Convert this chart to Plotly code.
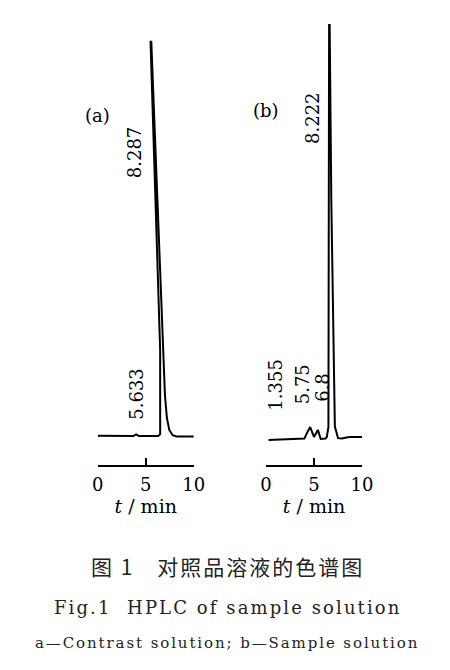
import plotly.graph_objects as go

# ---- data (retention time in min, detector signal in relative units) ----
time_a = [0.0, 2.5, 3.7, 4.0, 4.3, 6.3, 6.5, 6.5, 5.5, 5.58, 6.83, 7.0, 7.2, 7.45, 7.8, 8.2, 10.0]
signal_a = [0.2, 0.2, 0.1, 0.5, 0.1, 0.1, 0.6, 21.0, 95.9, 95.9, 21.0, 10.0, 4.5, 1.6, 0.3, 0.0, 0.0]

time_b = [0.27, 2.0, 3.5, 4.0, 4.3, 4.6, 5.0, 5.4, 5.7, 6.2, 6.33, 6.5, 6.57, 6.63, 6.8, 7.17, 7.5, 7.9, 8.5, 8.8, 9.3, 10.0]
signal_b = [-0.85, -0.7, -0.55, -0.5, 1.0, 2.3, -0.1, 1.6, -0.6, -0.5, -0.12, 2.3, 100.0, 100.0, 57.5, 2.4, -0.4, -0.5, -0.2, -0.1, -0.15, -0.1]

panel_labels = ["(a)", "(b)"]
peak_labels_a = ["8.287", "5.633"]
peak_labels_b = ["8.222", "1.355", "5.75", "6.8"]
tick_values = [0, 5, 10]
tick_text = ["0", "5", "10"]
axis_title = "<i>t</i> / min"
caption_cn = "图 1　对照品溶液的色谱图"
caption_en = "Fig.1  HPLC of sample solution"
caption_note = "a—Contrast solution; b—Sample solution"

SERIF = "DejaVu Serif"
OFF = 8  # page body margin
W, H = 450 - OFF, 670 - OFF


def px(x):
    return (x - OFF) / W


def py(y):
    return 1 - (y - OFF) / H


y_range = [-6.926, 102.43]

fig = go.Figure()
fig.add_trace(go.Scatter(x=time_a, y=signal_a, mode="lines",
                         line=dict(color="black", width=2), xaxis="x", yaxis="y",
                         showlegend=False, hoverinfo="skip"))
fig.add_trace(go.Scatter(x=time_b, y=signal_b, mode="lines",
                         line=dict(color="black", width=2), xaxis="x2", yaxis="y2",
                         showlegend=False, hoverinfo="skip"))

xaxis_style = dict(
    range=[0, 10], tickvals=tick_values, ticktext=tick_text,
    showline=True, linecolor="black", linewidth=1.5,
    ticks="inside", ticklen=7, tickwidth=1.5, tickcolor="black",
    showgrid=False, zeroline=False, ticklabelstandoff=3,
    tickfont=dict(family=SERIF, size=18, color="black"),
    title=dict(text=axis_title, font=dict(family=SERIF, size=19, color="black"), standoff=0),
    fixedrange=True,
)
yaxis_style = dict(range=y_range, visible=False, showgrid=False, zeroline=False,
                   domain=[py(465), py(15)], fixedrange=True)

fig.update_layout(
    width=W, height=H, autosize=False,
    margin=dict(l=0, r=0, t=0, b=0),
    paper_bgcolor="white", plot_bgcolor="white",
    font=dict(family=SERIF, color="black"),
    xaxis=dict(domain=[px(95), px(195)], anchor="y", **xaxis_style),
    yaxis=dict(anchor="x", **yaxis_style),
    xaxis2=dict(domain=[px(270), px(370)], anchor="y2", **xaxis_style),
    yaxis2=dict(anchor="x2", **yaxis_style),
)

ann = []
lab_font = dict(family=SERIF, size=18, color="black")
# panel labels
ann.append(dict(text=panel_labels[0], x=0.0, y=77.9, xref="x", yref="y", showarrow=False,
                font=lab_font, xanchor="center", yanchor="middle"))
ann.append(dict(text=panel_labels[1], x=0.05, y=79.3, xref="x2", yref="y2", showarrow=False,
                font=lab_font, xanchor="center", yanchor="middle"))
# peak labels (rotated)
pos_a = [(3.85, 69.0), (4.05, 10.3)]
for t, (x, y) in zip(peak_labels_a, pos_a):
    ann.append(dict(text=t, x=x, y=y, xref="x", yref="y", showarrow=False, textangle=-90,
                    font=lab_font, xanchor="center", yanchor="middle"))
pos_b = [(4.85, 77.3), (0.9, 12.5), (3.8, 12.8), (5.8, 12.0)]
for t, (x, y) in zip(peak_labels_b, pos_b):
    ann.append(dict(text=t, x=x, y=y, xref="x2", yref="y2", showarrow=False, textangle=-90,
                    font=lab_font, xanchor="center", yanchor="middle"))

# captions
ann.append(dict(text='<span style="letter-spacing:2px">' + caption_cn + '</span>',
                x=px(230.5), y=py(566), xref="paper", yref="paper", showarrow=False,
                font=dict(family="Noto Sans CJK SC", size=21, color="#222"),
                xanchor="center", yanchor="middle"))
ann.append(dict(text='<span style="letter-spacing:2.1px">' + caption_en + '</span>',
                x=px(230.5), y=py(607), xref="paper", yref="paper", showarrow=False,
                font=dict(family=SERIF, size=18, color="#222"),
                xanchor="center", yanchor="middle"))
ann.append(dict(text='<span style="letter-spacing:1.9px">' + caption_note + '</span>',
                x=px(230), y=py(643), xref="paper", yref="paper", showarrow=False,
                font=dict(family=SERIF, size=15, color="#222"),
                xanchor="center", yanchor="middle"))

fig.update_layout(annotations=ann)
fig.write_html("out.html")
